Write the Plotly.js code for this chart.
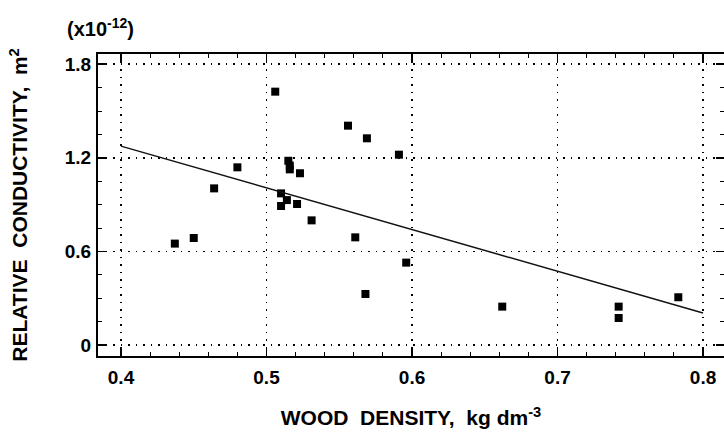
<!DOCTYPE html>
<html>
<head>
<meta charset="utf-8">
<script src="https://cdn.plot.ly/plotly-3.0.1.min.js"></script>
<style>html,body{margin:0;padding:0;background:#fff;}#chart{width:724px;height:445px;}</style>
</head>
<body>
<div id="chart"></div>
<script>
// Wood density (kg dm^-3) and relative conductivity (x10^-12 m^2)
const density = [0.506, 0.556, 0.569, 0.591, 0.480, 0.515, 0.516, 0.516, 0.523, 0.464, 0.510, 0.514, 0.510, 0.521, 0.531, 0.450, 0.437, 0.561, 0.596, 0.568, 0.662, 0.742, 0.742, 0.783];
const conductivity = [1.624, 1.406, 1.325, 1.220, 1.139, 1.181, 1.150, 1.126, 1.101, 1.004, 0.972, 0.929, 0.891, 0.904, 0.799, 0.686, 0.650, 0.690, 0.528, 0.327, 0.246, 0.246, 0.173, 0.306];
// Regression line end points
const fitX = [0.4, 0.8];
const fitY = [1.275, 0.205];
const xTickVals = [0.4, 0.5, 0.6, 0.7, 0.8];
const xTickText = ["0.4", "0.5", "0.6", "0.7", "0.8"];
const yTickVals = [0, 0.6, 1.2, 1.8];
const yTickText = ["0", "0.6", "1.2", "1.8"];

const font = {family: "Liberation Sans, Arial, sans-serif", color: "#000", weight: "bold"};
const NB = "\u00a0";

const traces = [
  {x: density, y: conductivity, type: "scatter", mode: "markers",
   marker: {symbol: "square", size: 8, color: "#000"}, hoverinfo: "x+y"},
  {x: fitX, y: fitY, type: "scatter", mode: "lines",
   line: {color: "#111", width: 1.5}, hoverinfo: "skip"}
];

const axisCommon = {
  showline: true, linecolor: "#000", linewidth: 2, mirror: "allticks",
  ticks: "inside", ticklen: 8, tickwidth: 1.5, tickcolor: "#000",
  showgrid: true, gridcolor: "#000", gridwidth: 1.5, griddash: "1.5px,6px",
  zeroline: false, tickfont: Object.assign({}, font, {size: 19}),
  tickmode: "array"
};

const layout = {
  width: 724, height: 445,
  margin: {l: 98, r: 0, t: 54, b: 89},
  paper_bgcolor: "#fff", plot_bgcolor: "#fff",
  showlegend: false,
  font: font,
  xaxis: Object.assign({}, axisCommon, {
    range: [0.3842, 0.8144],
    tickvals: xTickVals, ticktext: xTickText,
    ticklabelstandoff: 3,
    minor: {dtick: 0.02, ticks: "inside", ticklen: 4, tickwidth: 1, tickcolor: "#000", showgrid: false},
    title: {text: "WOOD" + NB + " DENSITY," + NB + " kg dm<sup>-3</sup>", font: Object.assign({}, font, {size: 21}), standoff: 24}
  }),
  yaxis: Object.assign({}, axisCommon, {
    range: [-0.0705, 1.8654],
    tickvals: yTickVals, ticktext: yTickText,
    ticklabelstandoff: 1,
    minor: {dtick: 0.15, tick0: 0, ticks: "inside", ticklen: 4, tickwidth: 1, tickcolor: "#000", showgrid: false},
    title: {text: "RELATIVE" + NB + " CONDUCTIVITY," + NB + " m<sup>2</sup>", font: Object.assign({}, font, {size: 21}), standoff: 31}
  }),
  annotations: [
    {text: "(x10<sup>-12</sup>)", xref: "paper", yref: "paper",
     x: (65 - 98) / 626, y: (356 - 27) / 302, xanchor: "left", yanchor: "middle",
     showarrow: false, font: Object.assign({}, font, {size: 20})}
  ]
};

Plotly.newPlot("chart", traces, layout, {displayModeBar: false, staticPlot: true});
</script>
</body>
</html>
